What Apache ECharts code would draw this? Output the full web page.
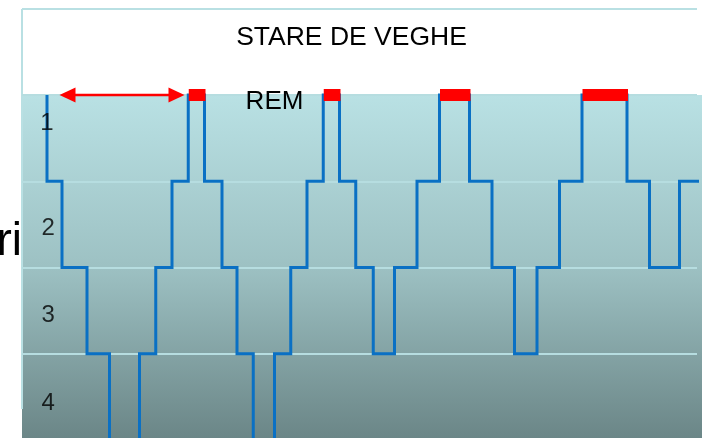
<!DOCTYPE html>
<html>
<head>
<meta charset="utf-8">
<script src="https://cdn.jsdelivr.net/npm/echarts@6/dist/echarts.min.js"></script>
<style>
  html, body { margin: 0; padding: 0; background: #ffffff; }
  #chart { width: 702px; height: 438px; }
</style>
</head>
<body>
<div id="chart"></div>
<script>
// Time (minutes from start) at which the sleep stage changes, and stage entered
const changeTimes = [20, 32, 52, 70, 94, 107, 120, 133, 146, 160, 172, 185, 202, 215, 228, 241,
                     254, 267, 281, 298, 316, 334, 358, 376, 394, 412, 430, 448, 484, 502, 526, 543];
const stagesAfter = [1, 2, 3, 4, 3, 2, 1, 0, 1, 2, 3, 4, 3, 2, 1, 0,
                     1, 2, 3, 2, 1, 0, 1, 2, 3, 2, 1, 0, 1, 2, 1, 0];
const initialStage = 0;
// REM periods
const remStart = [133, 241, 334, 448];
const remEnd   = [146, 254, 358, 484];
// first-cycle arrow
const arrowStart = [30];
const arrowEnd   = [130];
// stage labels (text, time, level position)
const stageLabels = ['1', '2', '3', '4'];
const stageLabelTime = [20, 21, 21, 21];
const stageLabelLevel = [0.33, 1.55, 2.56, 3.58];
const topText = 'STARE DE VEGHE';
const remText = 'REM';

const hypno = [];
let prev = initialStage;
for (let i = 0; i < changeTimes.length; i++) {
  hypno.push([changeTimes[i], prev]);
  hypno.push([changeTimes[i], stagesAfter[i]]);
  prev = stagesAfter[i];
}
const remData = remStart.map((s, i) => [s, remEnd[i]]);
const arrowData = arrowStart.map((s, i) => [s, arrowEnd[i]]);
const labelData = stageLabels.map((t, i) => [stageLabelTime[i], stageLabelLevel[i], t]);

const chart = echarts.init(document.getElementById('chart'), null, { renderer: 'canvas' });
const FONT = 'Liberation Sans, Arial, sans-serif';

chart.setOption({
  animation: false,
  backgroundColor: '#ffffff',
  grid: { left: 22, top: 95, width: 675, height: 345, outerBoundsMode: 'none', containLabel: false },
  xAxis: {
    type: 'value', min: 0, max: 540,
    axisLine: { show: false }, axisTick: { show: false }, axisLabel: { show: false },
    splitLine: { show: false }
  },
  yAxis: {
    type: 'value', min: 0, max: 4, interval: 1, inverse: true,
    axisLine: { show: false }, axisTick: { show: false }, axisLabel: { show: false },
    splitLine: { show: true, lineStyle: { color: '#b6dde0', width: 2 } }
  },
  graphic: [
    {
      type: 'rect', z: -10, silent: true,
      shape: { x: 22, y: 95, width: 680, height: 343 },
      style: {
        fill: new echarts.graphic.LinearGradient(0, 0, 0, 1, [
          { offset: 0, color: '#b9e1e4' },
          { offset: 0.5, color: '#9dc1c3' },
          { offset: 1, color: '#6b8687' }
        ])
      }
    },
    { type: 'rect', z: -9, silent: true, shape: { x: 22, y: 9, width: 675, height: 86 }, style: { fill: '#ffffff' } },
    { type: 'line', z: -8, silent: true, shape: { x1: 22, y1: 9, x2: 697, y2: 9 }, style: { stroke: '#b9e0e3', lineWidth: 2 } },
    { type: 'line', z: -8, silent: true, shape: { x1: 22, y1: 9, x2: 22, y2: 409 }, style: { stroke: '#b9e0e3', lineWidth: 2 } },
    { type: 'text', z: 5, silent: true, x: 351.5, y: 38,
      style: { text: topText, font: '26.5px ' + FONT, fill: '#000', align: 'center', verticalAlign: 'middle' } },
    { type: 'text', z: 5, silent: true, x: 274.5, y: 102,
      style: { text: remText, font: '26px ' + FONT, fill: '#000', align: 'center', verticalAlign: 'middle' } },
    { type: 'text', z: 5, silent: true, x: 22, y: 242,
      style: { text: 'ri', font: '46px ' + FONT, fill: '#000', align: 'right', verticalAlign: 'middle' } }
  ],
  series: [
    {
      type: 'line', data: hypno, clip: false, symbol: 'none', z: 3,
      lineStyle: { color: '#0a70c4', width: 3, join: 'miter' }
    },
    {
      type: 'custom', data: remData, clip: false, z: 4,
      renderItem: function (params, api) {
        const p1 = api.coord([api.value(0), 0]);
        const p2 = api.coord([api.value(1), 0]);
        return { type: 'rect', shape: { x: p1[0] + 0.5, y: p1[1] - 6, width: p2[0] - p1[0] + 0.5, height: 12 },
                 style: { fill: '#ff0000' } };
      }
    },
    {
      type: 'custom', data: arrowData, clip: false, z: 4,
      renderItem: function (params, api) {
        const p1 = api.coord([api.value(0), 0]);
        const p2 = api.coord([api.value(1), 0]);
        const L = 16, H = 7.5, y = p1[1];
        return { type: 'group', children: [
          { type: 'line', shape: { x1: p1[0] + L - 2, y1: y, x2: p2[0] - L + 2, y2: y }, style: { stroke: '#ff0000', lineWidth: 2.5 } },
          { type: 'polygon', shape: { points: [[p1[0], y], [p1[0] + L, y - H], [p1[0] + L, y + H]] }, style: { fill: '#ff0000' } },
          { type: 'polygon', shape: { points: [[p2[0], y], [p2[0] - L, y - H], [p2[0] - L, y + H]] }, style: { fill: '#ff0000' } }
        ] };
      }
    },
    {
      type: 'scatter', data: labelData, symbolSize: 0, z: 5, silent: true,
      label: {
        show: true, position: 'inside', formatter: p => p.value[2],
        fontFamily: FONT, fontSize: 24, color: '#000'
      }
    }
  ]
});
</script>
</body>
</html>
